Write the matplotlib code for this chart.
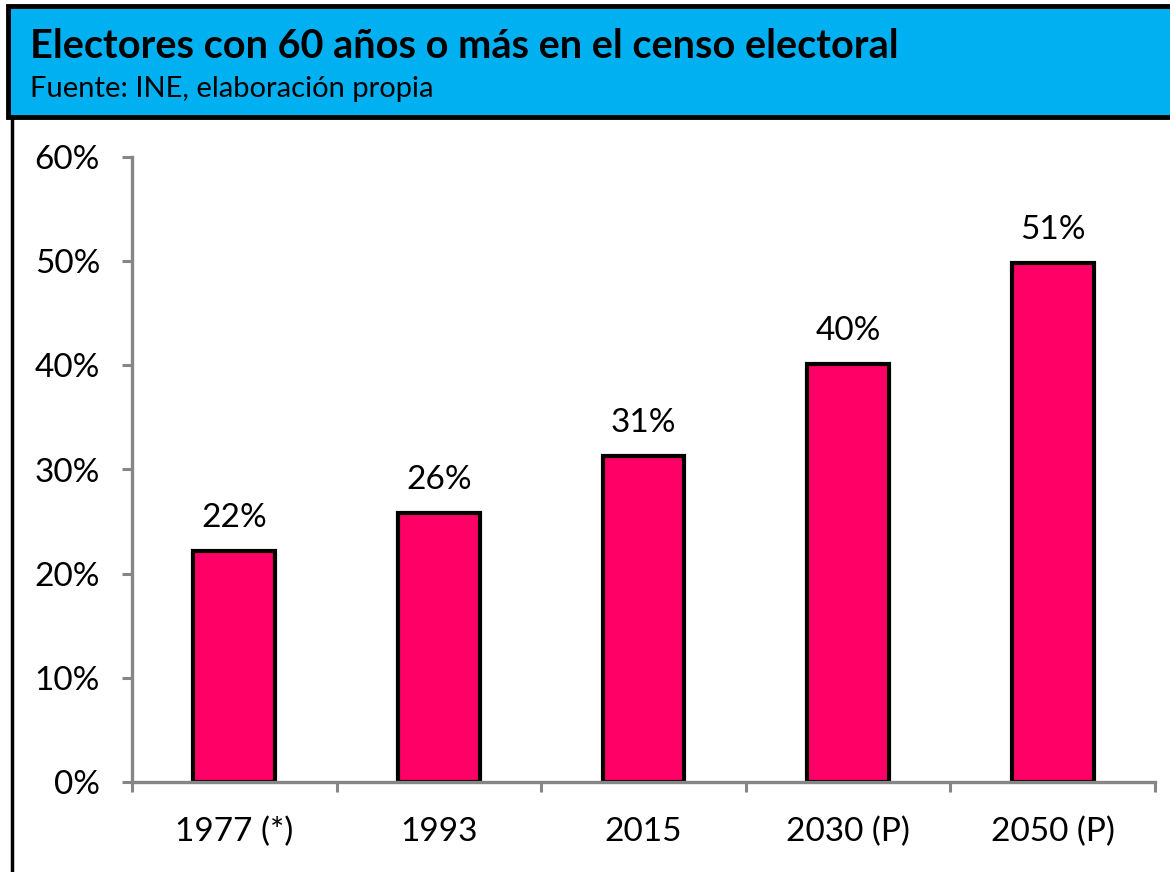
import matplotlib.pyplot as plt
from matplotlib.patches import Rectangle
from matplotlib.lines import Line2D
from matplotlib.ticker import FuncFormatter

categories = ["1977 (*)", "1993", "2015", "2030 (P)", "2050 (P)"]
values = [22.2, 25.8, 31.3, 40.1, 49.8]
labels = ["22%", "26%", "31%", "40%", "51%"]

plt.rcParams["font.family"] = ["Lato", "DejaVu Sans"]

fig = plt.figure(figsize=(11.7, 8.72), dpi=100)
ax = fig.add_axes([132 / 1170, 1 - 782 / 872, 1023 / 1170, 625 / 872])

x = list(range(len(categories)))
ax.bar(x, values, width=0.4, color="#FF0066", edgecolor="black", linewidth=3, zorder=2)
for xi, v, lab in zip(x, values, labels):
    ax.annotate(lab, (xi, v), xytext=(0, 13), textcoords="offset points",
                ha="center", va="bottom", fontsize=24)

ax.set_xlim(-0.5, len(categories) - 0.5)
ax.set_ylim(0, 60)
ax.set_yticks(range(0, 61, 10))
ax.yaxis.set_major_formatter(FuncFormatter(lambda v, p: "{:.0f}%".format(v)))
ax.set_xticks([i - 0.5 for i in range(len(categories) + 1)])
ax.set_xticklabels([])
ax.set_xticks(x, minor=True)
ax.set_xticklabels(categories, minor=True)
ax.tick_params(axis="x", which="minor", length=0, pad=25, labelsize=24)
ax.tick_params(axis="x", which="major", length=7, width=2.2, color="#868686")
ax.tick_params(axis="y", length=7, width=2.2, color="#868686", labelsize=24, pad=16)

for side in ["top", "right"]:
    ax.spines[side].set_visible(False)
for side in ["left", "bottom"]:
    ax.spines[side].set_color("#868686")
    ax.spines[side].set_linewidth(2.4)
    ax.spines[side].set_zorder(3)

# header box
fig.patches.append(Rectangle((8 / 1170, 1 - 117 / 872), 1.0, 111 / 872,
                             transform=fig.transFigure, facecolor="#00B0F0",
                             edgecolor="black", linewidth=3.5, zorder=1))
fig.lines.append(Line2D([12 / 1170, 12 / 1170], [0, 1 - 117 / 872],
                        transform=fig.transFigure, color="black", linewidth=2.5))
fig.text(30 / 1170, 1 - 58 / 872, "Electores con 60 años o más en el censo electoral",
         fontsize=28.5, fontweight="bold", va="baseline", ha="left")
fig.text(30 / 1170, 1 - 97 / 872, "Fuente: INE, elaboración propia",
         fontsize=21, va="baseline", ha="left")

fig.savefig("out.png", dpi=100)
